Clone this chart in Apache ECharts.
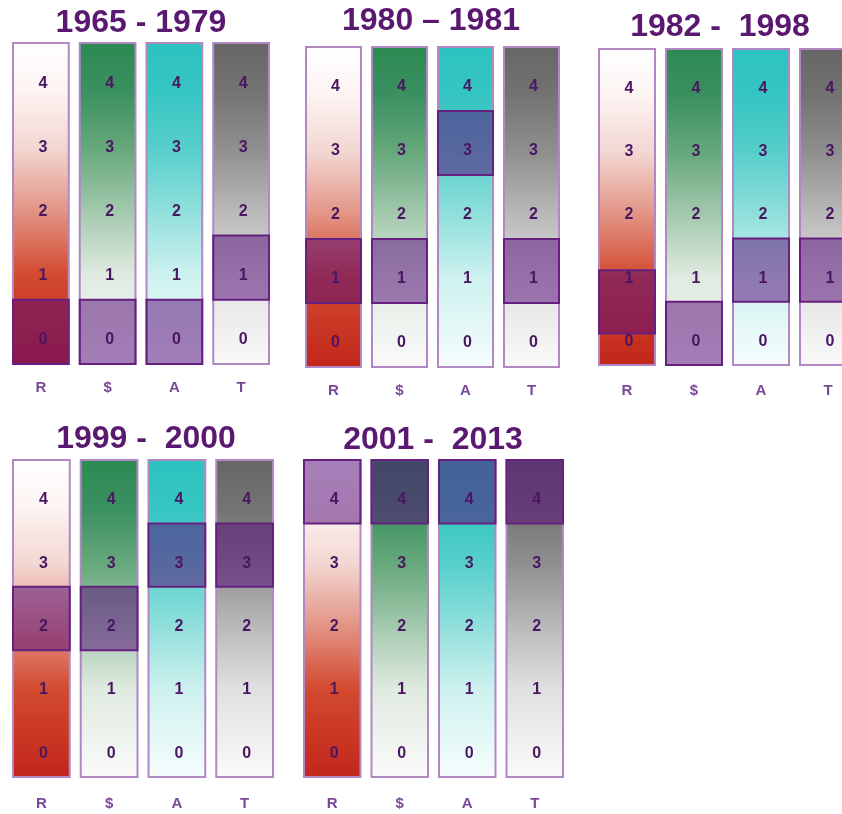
<!DOCTYPE html>
<html>
<head>
<meta charset="utf-8">
<script src="https://cdn.jsdelivr.net/npm/echarts@6/dist/echarts.min.js"></script>
<style>
html,body{margin:0;padding:0;background:#fff;}
#c{width:842px;height:814px;}
</style>
</head>
<body>
<div id="c"></div>
<script>
// ---- data ----
const categories = ['R', '$', 'A', 'T'];
const periods = ['1965 - 1979', '1980 \u2013 1981', '1982 -  1998', '1999 -  2000', '2001 -  2013'];
const levels = [0, 1, 2, 3, 4];
const rating1965 = [0, 0, 0, 1];
const rating1980 = [1, 1, 3, 1];
const rating1982 = [0.5, 0, 1, 1];
const rating1999 = [2, 2, 3, 3];
const rating2001 = [4, 4, 4, 4];
const ratings = [rating1965, rating1980, rating1982, rating1999, rating2001];

// ---- layout / style ----
const FONT = "'Liberation Sans', Arial, sans-serif";
const grids = [
  { left: 7.5, width: 267, top: 43, height: 321, axisMargin: 16 },
  { left: 300.5, width: 264, top: 47, height: 320, axisMargin: 16 },
  { left: 593.5, width: 268, top: 49, height: 316, axisMargin: 18 },
  { left: 7.5, width: 271, top: 460, height: 317, axisMargin: 19 },
  { left: 298.5, width: 270, top: 460, height: 317, axisMargin: 19 }
];
const titlePos = [[141, 23], [431, 21], [720, 27], [146, 439], [433, 440]];
const GAP = 11;
const TOPV = 5;

function grad(stops) {
  return { type: 'linear', x: 0, y: 0, x2: 0, y2: 1,
    colorStops: stops.map(s => ({ offset: s[0], color: s[1] })) };
}
const fills = [
  grad([[0, '#ffffff'], [0.15, '#fdf4f3'], [0.33, '#f2d6d1'], [0.52, '#e39586'], [0.72, '#d24a30'], [1, '#c2261a']]),
  grad([[0, '#2c8a52'], [0.15, '#3a9060'], [0.33, '#66a87c'], [0.52, '#a2c8ac'], [0.72, '#dfeae0'], [1, '#fbfbfb']]),
  grad([[0, '#2dc3c0'], [0.15, '#35c5c2'], [0.33, '#57cfcb'], [0.52, '#8fdfdb'], [0.72, '#cdf1ef'], [1, '#f7fdfd']]),
  grad([[0, '#666666'], [0.15, '#737373'], [0.33, '#8f8f8f'], [0.52, '#b8b8b8'], [0.72, '#e0e0e0'], [1, '#fafafa']])
];

const option = {
  animation: false,
  backgroundColor: '#ffffff',
  grid: grids.map(g => ({ left: g.left, width: g.width, top: g.top, height: g.height,
    outerBoundsMode: 'none', containLabel: false })),
  xAxis: grids.map((g, i) => ({
    type: 'category', gridIndex: i, data: categories,
    axisLine: { show: false }, axisTick: { show: false }, splitLine: { show: false },
    axisLabel: { margin: g.axisMargin, color: '#7a4896', fontSize: 15, fontWeight: 'bold', fontFamily: FONT }
  })),
  yAxis: grids.map((g, i) => ({
    type: 'value', gridIndex: i, min: 0, max: TOPV, show: false, splitLine: { show: false }
  })),
  graphic: periods.map((t, i) => ({
    type: 'text', x: titlePos[i][0], y: titlePos[i][1],
    style: { text: t, font: 'bold 32px ' + FONT, fill: '#5a1870',
      textAlign: 'center', textVerticalAlign: 'middle', align: 'center', verticalAlign: 'middle' }
  })),
  series: []
};

ratings.forEach((r, p) => {
  // column backgrounds
  option.series.push({
    type: 'custom', xAxisIndex: p, yAxisIndex: p, z: 1, silent: true,
    data: categories.map((c, ci) => [ci, TOPV]),
    renderItem: function (params, api) {
      const ci = api.value(0);
      const top = api.coord([ci, api.value(1)]);
      const bot = api.coord([ci, 0]);
      const w = api.size([1, 0])[0] - GAP;
      return { type: 'rect',
        shape: { x: top[0] - w / 2, y: top[1], width: w, height: bot[1] - top[1] },
        style: { fill: fills[ci], stroke: '#b088c4', lineWidth: 2 } };
    }
  });
  // highlighted rating cell
  option.series.push({
    type: 'custom', xAxisIndex: p, yAxisIndex: p, z: 2, silent: true,
    data: r.map((v, ci) => [ci, v]),
    renderItem: function (params, api) {
      const ci = api.value(0);
      const v = api.value(1);
      const top = api.coord([ci, v + 1]);
      const bot = api.coord([ci, v]);
      const w = api.size([1, 0])[0] - GAP;
      return { type: 'rect',
        shape: { x: top[0] - w / 2, y: top[1], width: w, height: bot[1] - top[1] },
        style: { fill: 'rgba(87,13,121,0.53)', stroke: '#66207f', lineWidth: 2 } };
    }
  });
  // level numbers
  const pts = [];
  categories.forEach((c, ci) => levels.forEach(l => pts.push([ci, l])));
  option.series.push({
    type: 'custom', xAxisIndex: p, yAxisIndex: p, z: 3, silent: true,
    data: pts,
    renderItem: function (params, api) {
      const ci = api.value(0);
      const l = api.value(1);
      const pt = api.coord([ci, l + 0.5]);
      return { type: 'text', x: pt[0] + 2, y: pt[1] + 8,
        style: { text: String(l), font: 'bold 16px ' + FONT, fill: '#4a1662',
          textAlign: 'center', textVerticalAlign: 'middle', align: 'center', verticalAlign: 'middle' } };
    }
  });
});

const chart = echarts.init(document.getElementById('c'), null, { renderer: 'canvas' });
chart.setOption(option);
</script>
</body>
</html>
